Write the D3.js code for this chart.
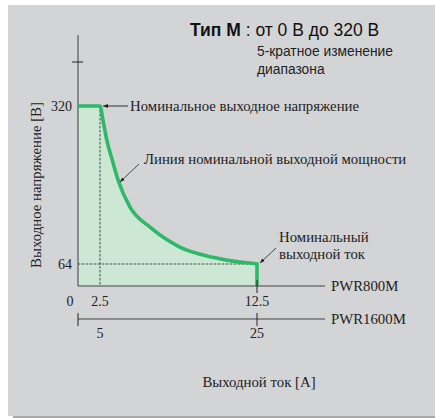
<!DOCTYPE html>
<html>
<head>
<meta charset="utf-8">
<script src="https://cdn.jsdelivr.net/npm/d3@7"></script>
<style>
  body { margin: 0; background: #fff; }
  svg { display: block; }
</style>
</head>
<body>
<script>
// data (schematic, axes are not to scale)
var xTicks800 = [0, 2.5, 12.5];
var xTicks1600 = [5, 25];
var yTicks = [64, 320];
// rated power line, current [A] / voltage [V] for PWR800M
var curveI = [2.5, 2.69, 2.93, 3.33, 3.65, 4.41, 5.67, 7.58, 9.68, 11.4, 12.5];
var curveV = [320, 297, 265, 228, 200, 156, 124, 91.5, 75, 67, 64];

var width = 435, height = 418;
var fs = 14.8;

var svg = d3.select("body").append("svg")
    .attr("width", width)
    .attr("height", height);

// grey panel
svg.append("rect")
    .attr("x", 8).attr("y", 5)
    .attr("width", 427).attr("height", 411)
    .attr("fill", "#d3d4d6");
svg.append("line")
    .attr("x1", 13).attr("x2", 435)
    .attr("y1", 417).attr("y2", 417)
    .attr("stroke", "#a9aaac").attr("stroke-width", 2);

// piecewise scales, the chart is a sketch
var x = d3.scaleLinear().domain([0, 2.5, 12.5]).range([78, 100, 257]);
var y = d3.scaleLinear().domain([0, 64, 320]).range([286, 264, 106]);
// second current axis (PWR1600M): 5 sits under 2.5, 25 under 12.5
var x2 = d3.scaleLinear().domain([0, 5, 25]).range([78, 100, 257]);

var pts = curveI.map(function (d, i) { return [d, curveV[i]]; });

// filled area
var area = [[0, 0], [0, 320]].concat(pts).concat([[12.5, 0]]);
svg.append("path")
    .attr("d", d3.line().x(function (d) { return x(d[0]); }).y(function (d) { return y(d[1]); })(area) + "Z")
    .attr("fill", "#cce7d4");

// dashed guides
svg.append("line")
    .attr("x1", x(2.5)).attr("x2", x(2.5))
    .attr("y1", y(320)).attr("y2", y(0))
    .attr("stroke", "#222").attr("stroke-width", 0.8)
    .attr("stroke-dasharray", "2.5,1.5");
svg.append("line")
    .attr("x1", x(0)).attr("x2", x(12.5))
    .attr("y1", y(64)).attr("y2", y(64))
    .attr("stroke", "#222").attr("stroke-width", 0.8)
    .attr("stroke-dasharray", "2.5,1.5");

// y axis
svg.append("line")
    .attr("x1", 78).attr("x2", 78)
    .attr("y1", 35).attr("y2", y(0))
    .attr("stroke", "#555").attr("stroke-width", 1.2);
svg.append("line")
    .attr("x1", 72).attr("x2", 83)
    .attr("y1", 62).attr("y2", 62)
    .attr("stroke", "#222").attr("stroke-width", 1);

svg.selectAll(".ylab")
    .data(yTicks)
    .enter()
    .append("text")
    .attr("x", 72)
    .attr("y", function (d) { return y(d) + 5; })
    .attr("text-anchor", "end")
    .attr("font-family", "Liberation Serif")
    .attr("font-size", 14)
    .attr("fill", "#222")
    .text(function (d) { return d; });

// power curve
svg.append("path")
    .attr("d", d3.line().x(function (d) { return x(d[0]); }).y(function (d) { return y(d[1]); })
        .curve(d3.curveMonotoneX)([[0, 320]].concat(pts).concat([[12.5, 0]])))
    .attr("fill", "none")
    .attr("stroke", "#2db968")
    .attr("stroke-width", 3.6)
    .attr("stroke-linejoin", "miter");

// x axis PWR800M
svg.append("line")
    .attr("x1", 78).attr("x2", 325)
    .attr("y1", 286).attr("y2", 286)
    .attr("stroke", "#444").attr("stroke-width", 1);
svg.append("line")
    .attr("x1", x(12.5)).attr("x2", x(12.5))
    .attr("y1", 280).attr("y2", 293)
    .attr("stroke", "#222").attr("stroke-width", 1);
svg.selectAll(".xlab")
    .data(xTicks800)
    .enter()
    .append("text")
    .attr("x", function (d) { return d === 0 ? 70 : x(d); })
    .attr("y", 306)
    .attr("text-anchor", "middle")
    .attr("font-family", "Liberation Serif")
    .attr("font-size", 14)
    .attr("fill", "#222")
    .text(function (d) { return d; });

// x axis PWR1600M
svg.append("line")
    .attr("x1", 78).attr("x2", 325)
    .attr("y1", 319).attr("y2", 319)
    .attr("stroke", "#444").attr("stroke-width", 1);
[0, 25].forEach(function (d) {
    svg.append("line")
        .attr("x1", x2(d)).attr("x2", x2(d))
        .attr("y1", 313).attr("y2", 326)
        .attr("stroke", "#222").attr("stroke-width", 1);
});
svg.selectAll(".x2lab")
    .data(xTicks1600)
    .enter()
    .append("text")
    .attr("x", function (d) { return x2(d); })
    .attr("y", 338)
    .attr("text-anchor", "middle")
    .attr("font-family", "Liberation Serif")
    .attr("font-size", 14)
    .attr("fill", "#222")
    .text(function (d) { return d; });

function serif(tx, ty, s, anchor) {
    return svg.append("text")
        .attr("x", tx).attr("y", ty)
        .attr("text-anchor", anchor || "start")
        .attr("font-family", "Liberation Serif")
        .attr("font-size", fs)
        .attr("fill", "#222")
        .text(s);
}

serif(331, 290.5, "PWR800M");
serif(331, 323.5, "PWR1600M");
serif(259, 387, "Выходной ток [А]", "middle");

svg.append("text")
    .attr("transform", "translate(41,185) rotate(-90)")
    .attr("text-anchor", "middle")
    .attr("font-family", "Liberation Serif")
    .attr("font-size", fs)
    .attr("fill", "#222")
    .text("Выходное напряжение [В]");

// annotations
svg.append("defs").append("marker")
    .attr("id", "arr")
    .attr("viewBox", "0 0 10 10")
    .attr("refX", 10).attr("refY", 5)
    .attr("markerWidth", 6).attr("markerHeight", 6)
    .attr("orient", "auto")
    .append("path")
    .attr("d", "M0,1L10,5L0,9Z")
    .attr("fill", "#222");

svg.append("line")
    .attr("x1", 128).attr("y1", 106).attr("x2", 103).attr("y2", 106)
    .attr("stroke", "#222").attr("stroke-width", 0.9)
    .attr("marker-end", "url(#arr)");
serif(130, 111, "Номинальное выходное напряжение");

svg.append("line")
    .attr("x1", 139).attr("y1", 164).attr("x2", 120).attr("y2", 182)
    .attr("stroke", "#222").attr("stroke-width", 0.8)
    .attr("marker-end", "url(#arr)");
serif(144, 163.5, "Линия номинальной выходной мощности");

svg.append("line")
    .attr("x1", 276).attr("y1", 248).attr("x2", 260).attr("y2", 263)
    .attr("stroke", "#222").attr("stroke-width", 0.8)
    .attr("marker-end", "url(#arr)");
serif(279, 241.5, "Номинальный");
serif(279, 258.5, "выходной ток");

// title
var t = svg.append("text")
    .attr("x", 190).attr("y", 36)
    .attr("font-family", "Liberation Sans")
    .attr("font-size", 17.5)
    .attr("fill", "#111");
t.append("tspan").attr("font-weight", "bold").text("Тип М");
t.append("tspan").text(" : от 0 В до 320 В");

svg.append("text")
    .attr("x", 257).attr("y", 56)
    .attr("font-family", "Liberation Sans")
    .attr("font-size", 13.8)
    .attr("fill", "#222")
    .text("5-кратное изменение");
svg.append("text")
    .attr("x", 257).attr("y", 74)
    .attr("font-family", "Liberation Sans")
    .attr("font-size", 13.8)
    .attr("fill", "#222")
    .text("диапазона");
</script>
</body>
</html>
